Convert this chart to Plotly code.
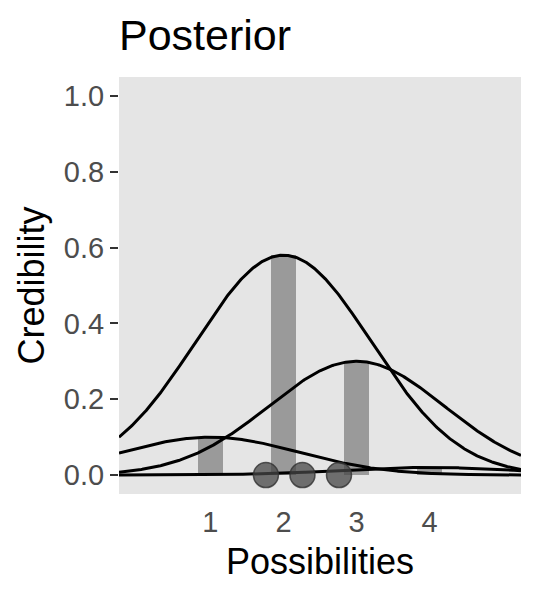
"""Posterior credibility over four possibilities, ggplot-like look"""

import numpy as np
import plotly.graph_objects as go

possibilities = [1, 2, 3, 4]
posterior = [0.10, 0.58, 0.30, 0.02]
data_points = [1.76, 2.26, 2.76]
curve_sd = 1.2

x_ticks = [1, 2, 3, 4]
y_ticks = [0.0, 0.2, 0.4, 0.6, 0.8, 1.0]
y_tick_text = ["%.1f" % v for v in y_ticks]

font_family = "Liberation Sans, Arial, sans-serif"

fig = go.Figure()

# bars for the posterior credibility
fig.add_trace(go.Bar(
    x=possibilities,
    y=posterior,
    width=0.34,
    marker=dict(color="#9a9a9a", line=dict(width=0)),
    showlegend=False,
))

# one normal curve per possibility, scaled to its credibility
xs = np.linspace(-0.25, 5.25, 400)
for mu, h in zip(possibilities, posterior):
    fig.add_trace(go.Scatter(
        x=xs,
        y=h * np.exp(-(xs - mu) ** 2 / (2 * curve_sd ** 2)),
        mode="lines",
        line=dict(color="black", width=3),
        showlegend=False,
    ))

# observed data
fig.add_trace(go.Scatter(
    x=data_points,
    y=[0] * len(data_points),
    mode="markers",
    marker=dict(size=25, color="rgba(70,70,70,0.75)",
                line=dict(color="rgba(50,50,50,0.8)", width=1.5)),
    showlegend=False,
))

# page body has an 8px margin, so the figure is 8px smaller each way
fig.update_layout(
    width=532,
    height=592,
    margin=dict(l=111, r=19, t=69, b=106),
    paper_bgcolor="white",
    plot_bgcolor="#e5e5e5",
    font=dict(family=font_family, color="black"),
    title=dict(text="Posterior", font=dict(size=43, color="black"),
               x=0, xref="paper", xanchor="left",
               y=1 - 27 / 592, yref="container", yanchor="middle"),
    bargap=0,
)

fig.update_xaxes(
    range=[-0.25, 5.25],
    tickvals=x_ticks,
    ticks="outside", ticklen=2, tickcolor="rgba(0,0,0,0)",
    tickfont=dict(size=29, color="#4d4d4d"),
    showgrid=False, zeroline=False, showline=False,
    title=dict(text="Possibilities", font=dict(size=36), standoff=12),
)
fig.update_yaxes(
    range=[-0.05, 1.05],
    tickvals=y_ticks,
    ticktext=y_tick_text,
    ticks="outside", ticklen=8, tickwidth=2.2, tickcolor="#333333",
    tickfont=dict(size=29, color="#4d4d4d"),
    showgrid=False, zeroline=False, showline=False,
    title=dict(text="Credibility", font=dict(size=36), standoff=8),
)

fig.write_html("out.html")
